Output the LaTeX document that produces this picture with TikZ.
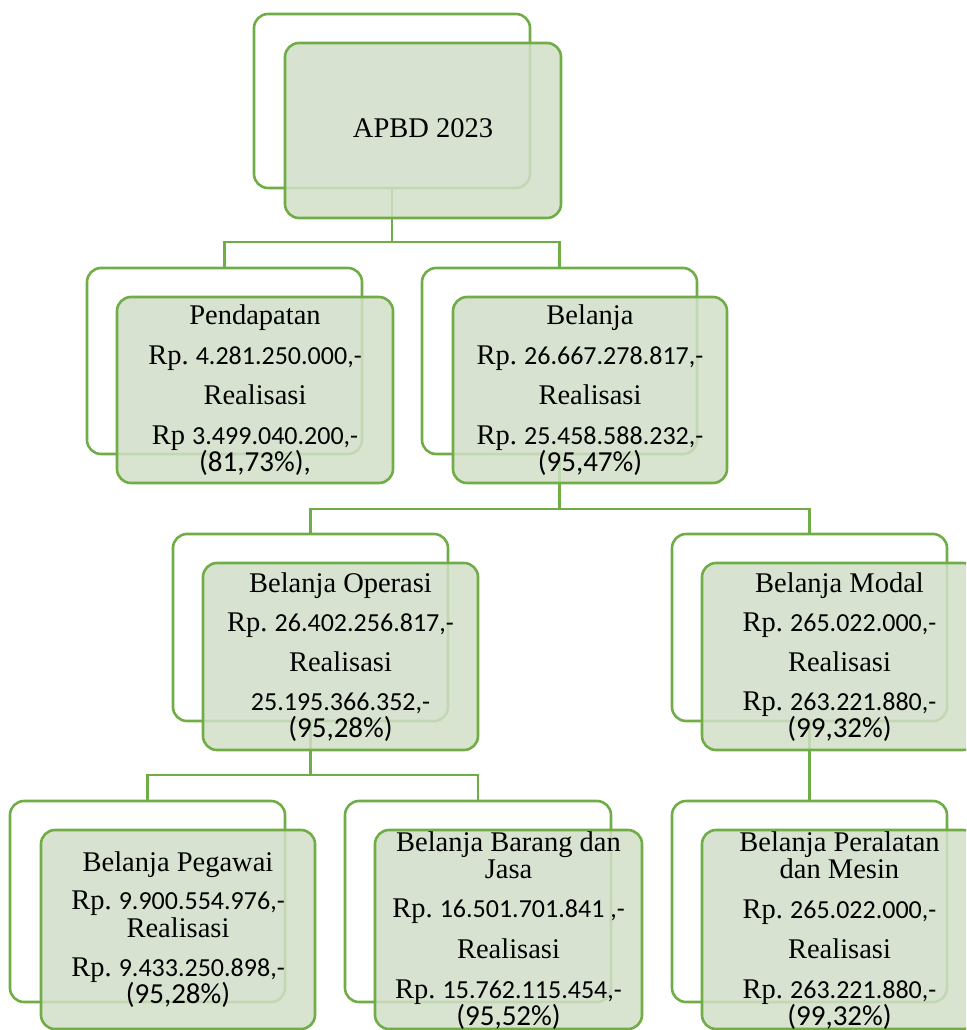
\documentclass[tikz,border=0pt]{standalone}
\usepackage{fontspec}
\setmainfont{Liberation Serif}
\newfontfamily\numfont{Carlito}
\definecolor{linegreen}{RGB}{112,173,71}
\definecolor{boxfill}{RGB}{209,223,200}
% amounts and percentages are set in a sans face
\newcommand\nm[1]{{\fontsize{26}{27}\numfont #1}}
\newcommand\pc[1]{{\fontsize{29}{27}\numfont #1}}
\tikzset{
  backframe/.style={draw=linegreen, line width=2.6pt, rounded corners=14pt, fill=white,
    inner sep=0pt, outer sep=0pt, minimum width=#1},
  backframe/.default=275pt,
  frontbox/.style={draw=linegreen, line width=2.6pt, rounded corners=14pt, fill=boxfill,
    fill opacity=0.85, inner sep=0pt, outer sep=0pt, minimum width=#1},
  frontbox/.default=275pt,
  boxtext/.style={anchor=base, align=center, inner sep=0pt, text=black,
    font=\fontsize{28.5}{27}\selectfont\frenchspacing,
    execute at begin node={\setlength{\lineskiplimit}{-100pt}\setlength{\lineskip}{0pt}}},
  link/.style={draw=linegreen, line width=2.6pt}
}
\begin{document}
\begin{tikzpicture}[x=1pt,y=-1pt]
\useasboundingbox (0,0) rectangle (966,1030);
\clip (0,0) rectangle (966,1030);

% back frames
\node[backframe=276pt, minimum height=174pt] (apbd-b) at (392,101) {};
\node[backframe, minimum height=186pt] (pend-b) at (224.5,361) {};
\node[backframe, minimum height=186pt] (bel-b) at (559.5,361) {};
\node[backframe, minimum height=187pt] (op-b) at (310.5,627.5) {};
\node[backframe, minimum height=187pt] (mod-b) at (809.5,627.5) {};
\node[backframe, minimum height=201pt] (peg-b) at (147.5,901.5) {};
\node[backframe=266pt, minimum height=201pt] (bar-b) at (478,901.5) {};
\node[backframe, minimum height=201pt] (per-b) at (809.5,901.5) {};

% connectors
\coordinate (busA) at (0,242);
\coordinate (busB) at (0,509);
\coordinate (busC) at (0,775);
\draw[link] (apbd-b.south) -- (apbd-b.south |- busA) -| (pend-b.north);
\draw[link] (apbd-b.south |- busA) -| (bel-b.north);
\draw[link] (bel-b.south) -- (bel-b.south |- busB) -| (op-b.north);
\draw[link] (bel-b.south |- busB) -| (mod-b.north);
\draw[link] (op-b.south) -- (op-b.south |- busC) -| (peg-b.north);
\draw[link] (op-b.south |- busC) -| (bar-b.north);
\draw[link] (mod-b.south) -- (per-b.north);

% front boxes
\node[frontbox=276pt, minimum height=175pt] (apbd-f) at (423,130.5) {};
\node[frontbox=276pt, minimum height=186pt] (pend-f) at (255,390) {};
\node[frontbox=274pt, minimum height=186pt] (bel-f) at (590,390) {};
\node[frontbox, minimum height=187pt] (op-f) at (340.5,656.5) {};
\node[frontbox, minimum height=187pt] (mod-f) at (839.5,656.5) {};
\node[frontbox=274pt, minimum height=199pt] (peg-f) at (178,929.5) {};
\node[frontbox=267pt, minimum height=199pt] (bar-f) at (508.5,929.5) {};
\node[frontbox, minimum height=199pt] (per-f) at (839.5,929.5) {};

% texts (anchored at the baseline of the last line)
\node[boxtext] (apbd-t) at (423,138) {APBD 2023};
\node[boxtext] (pend-t) at (255,471) {Pendapatan\\[13pt]
  Rp. \nm{4.281.250.000,-}\\[13pt] Realisasi\\[13pt]
  Rp \nm{3.499.040.200,-}\\ \pc{(81,73\%),}};
\node[boxtext] (bel-t) at (590,471) {Belanja\\[13pt]
  Rp. \nm{26.667.278.817,-}\\[13pt] Realisasi\\[13pt]
  Rp. \nm{25.458.588.232,-}\\ \pc{(95,47\%)}};
\node[boxtext] (op-t) at (340.5,737) {Belanja Operasi\\[12pt]
  Rp. \nm{26.402.256.817,-}\\[13pt] Realisasi\\[12pt]
  \nm{25.195.366.352,-}\\ \pc{(95,28\%)}};
\node[boxtext] (mod-t) at (839.5,737) {Belanja Modal\\[12pt]
  Rp. \nm{265.022.000,-}\\[13pt] Realisasi\\[12pt]
  Rp. \nm{263.221.880,-}\\ \pc{(99,32\%)}};
\node[boxtext] (peg-t) at (178,1003) {Belanja Pegawai\\[11pt]
  Rp. \nm{9.900.554.976,-}\\[1pt] Realisasi\\[12pt]
  Rp. \nm{9.433.250.898,-}\\ \pc{(95,28\%)}};
\node[boxtext] (bar-t) at (508.5,1025) {Belanja Barang dan\\ Jasa\\[12pt]
  Rp. \nm{16.501.701.841 ,-}\\[14pt] Realisasi\\[13pt]
  Rp. \nm{15.762.115.454,-}\\ \pc{(95,52\%)}};
\node[boxtext] (per-t) at (839.5,1025) {Belanja Peralatan\\ dan Mesin\\[13pt]
  Rp. \nm{265.022.000,-}\\[13pt] Realisasi\\[13pt]
  Rp. \nm{263.221.880,-}\\ \pc{(99,32\%)}};
\end{tikzpicture}
\end{document}
